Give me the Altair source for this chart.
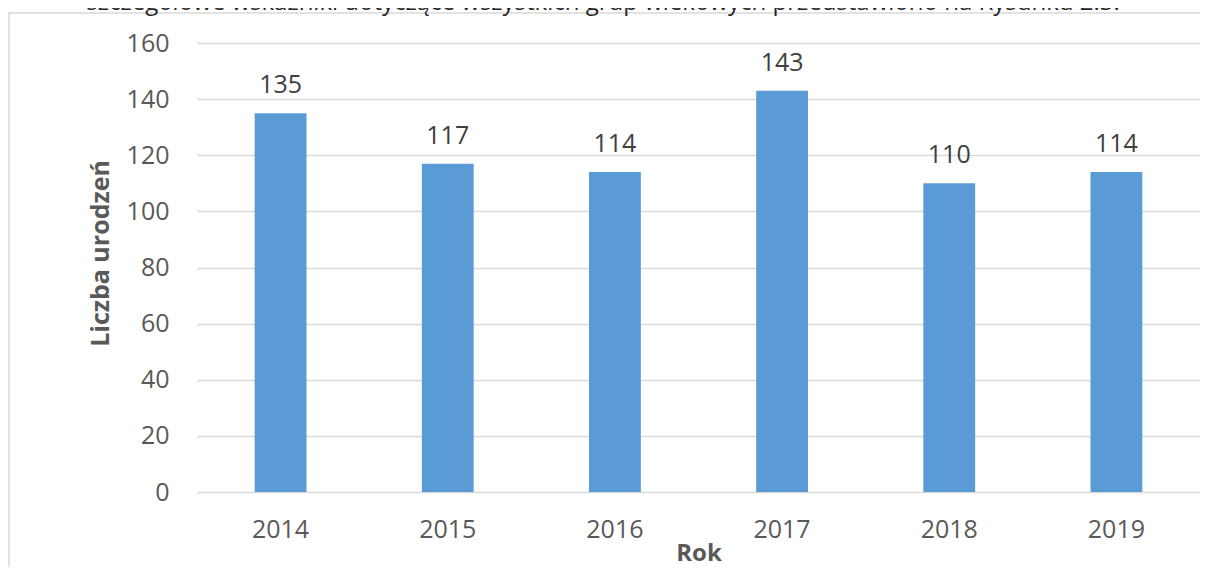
import altair as alt
import pandas as pd

years = ["2014", "2015", "2016", "2017", "2018", "2019"]
births = [135, 117, 114, 143, 110, 114]
y_ticks = [0, 20, 40, 60, 80, 100, 120, 140, 160]
top_text = "szczegółowe wskaźniki dotyczące wszystkich grup wiekowych przedstawiono na Rysunku 2.3."

FONT = "Open Sans"
GRID = "#d9d9d9"
LABEL = "#595959"

df = pd.DataFrame({"Rok": years, "Liczba urodzeń": births})
one = pd.DataFrame({"t": [top_text]})

x = alt.X(
    "Rok:N",
    sort=years,
    scale=alt.Scale(paddingInner=0.69, paddingOuter=0.345),
    axis=alt.Axis(
        title="Rok",
        labelAngle=0,
        grid=False,
        domain=False,
        ticks=False,
        tickSize=0,
        labelFont=FONT,
        labelFontSize=25,
        labelColor=LABEL,
        labelPadding=25,
        titleFont=FONT,
        titleFontSize=24,
        titleFontWeight="bold",
        titleColor=LABEL,
        titleY=68,
        titleBaseline="alphabetic",
    ),
)
y = alt.Y(
    "Liczba urodzeń:Q",
    scale=alt.Scale(domain=[0, 160], nice=False),
    axis=alt.Axis(
        values=y_ticks,
        title="Liczba urodzeń",
        grid=True,
        gridColor=GRID,
        gridWidth=1.5,
        domain=False,
        ticks=False,
        tickSize=0,
        labelFont=FONT,
        labelFontSize=25,
        labelColor=LABEL,
        labelPadding=28,
        titleFont=FONT,
        titleFontSize=25,
        titleFontWeight="bold",
        titleColor=LABEL,
        titleX=-97,
        titleY=210,
        titleBaseline="middle",
    ),
)

bars = alt.Chart(df).mark_bar(color="#5B9BD5").encode(x=x, y=y)
labels = alt.Chart(df).mark_text(
    dy=-20, baseline="alphabetic", fontSize=25, color="#404040", font=FONT
).encode(x=x, y=y, text="Liczba urodzeń:Q")

frame = alt.Chart(one).mark_rect(
    filled=False, stroke=GRID, strokeWidth=1.5
).encode(
    x=alt.value(-188), x2=alt.value(1100), y=alt.value(-30), y2=alt.value(700)
)
header = alt.Chart(one).mark_text(
    font=FONT, fontSize=24, color="#262626", baseline="alphabetic", align="center"
).encode(x=alt.value(406), y=alt.value(-33), text="t:N")

chart = (
    alt.layer(frame, header, bars, labels)
    .properties(
        width=1003,
        height=449,
        autosize=alt.AutoSizeParams(type="none"),
        padding={"left": 189, "top": 35, "right": 0, "bottom": 75},
    )
    .configure_view(stroke=None)
)

chart.save("out.html", embed_options={"renderer": "svg", "actions": False})
